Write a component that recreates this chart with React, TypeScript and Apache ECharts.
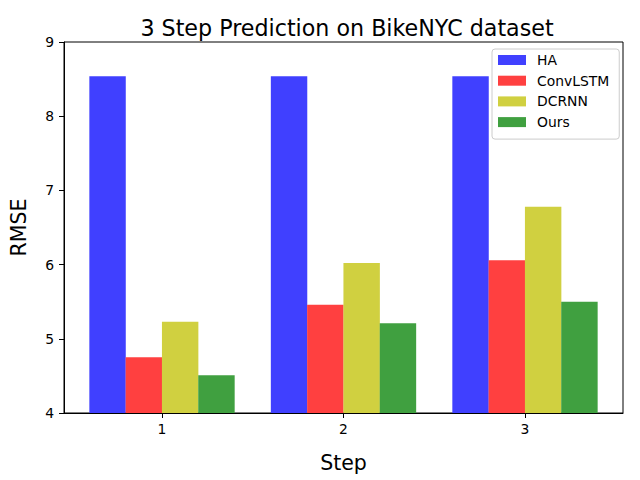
import React, { useEffect, useRef } from "react";
import * as echarts from "echarts";

const steps = [1, 2, 3];
const seriesNames = ["HA", "ConvLSTM", "DCRNN", "Ours"];
const haValues = [8.54, 8.54, 8.54];
const convlstmValues = [4.75, 5.46, 6.06];
const dcrnnValues = [5.23, 6.02, 6.78];
const oursValues = [4.51, 5.21, 5.5];
const yTicks = [4, 5, 6, 7, 8, 9];

const FONT = "DejaVu Sans";

export default function App() {
  const ref = useRef<HTMLDivElement>(null);
  useEffect(() => {
    if (!ref.current) return;
    const chart = echarts.init(ref.current, undefined, { renderer: "svg" });
    const allValues = [haValues, convlstmValues, dcrnnValues, oursValues];
    const colors = ["#4040FF", "#FF4040", "#D0D040", "#40A040"];
    const barW = 0.2;
    const gridLeft = 62;
    const gridRight = 17;
    const xMin = 0.46;
    const xMax = 3.54;
    const pxPerUnit = (640 - gridLeft - gridRight) / (xMax - xMin);
    const series = seriesNames.map((name, i) => ({
      name,
      type: "bar",
      barWidth: barW * pxPerUnit,
      barGap: "-100%",
      itemStyle: { color: colors[i] },
      data: steps.map((s, j) => [s + (i - 1.5) * barW, allValues[i][j]]),
    }));
    chart.setOption({
      animation: false,
      textStyle: { fontFamily: FONT },
      title: {
        text: "3 Step Prediction on BikeNYC dataset",
        left: 342,
        top: 12,
        textAlign: "center",
        textStyle: { fontFamily: FONT, fontSize: 22.2, fontWeight: "normal", color: "#000" },
      },
      legend: {
        data: seriesNames,
        orient: "vertical",
        left: 492,
        top: 49,
        padding: [4, 10, 10, 6],
        itemWidth: 28,
        itemHeight: 10,
        itemGap: 6.7,
        icon: "rect",
        borderColor: "#cccccc",
        borderWidth: 1,
        borderRadius: 3,
        backgroundColor: "rgba(255,255,255,0.8)",
        textStyle: { fontFamily: FONT, fontSize: 13.9, lineHeight: 14, color: "#000", padding: [0, 0, 0, 6] },
      },
      grid: {
        left: gridLeft,
        right: gridRight,
        top: 42,
        bottom: 67,
        show: true,
        borderColor: "#000",
        borderWidth: 1,
        containLabel: false,
      },
      xAxis: {
        type: "value",
        min: xMin,
        max: xMax,
        name: "Step",
        nameLocation: "middle",
        nameGap: 39,
        nameTextStyle: { fontFamily: FONT, fontSize: 20.5, color: "#000" },
        axisLine: { show: true, lineStyle: { color: "#000", width: 1 } },
        axisTick: { show: true, length: 5, lineStyle: { color: "#000" }, customValues: steps },
        axisLabel: { show: true, margin: 9, fontFamily: FONT, fontSize: 13.9, color: "#000", customValues: steps },
        splitLine: { show: false },
      },
      yAxis: {
        type: "value",
        min: yTicks[0],
        max: yTicks[yTicks.length - 1],
        interval: 1,
        name: "RMSE",
        nameLocation: "middle",
        nameGap: 35,
        nameRotate: 90,
        nameTextStyle: { fontFamily: FONT, fontSize: 20.5, color: "#000" },
        axisLine: { show: true, lineStyle: { color: "#000", width: 1 } },
        axisTick: { show: true, length: 5, lineStyle: { color: "#000" } },
        axisLabel: { show: true, margin: 10, fontFamily: FONT, fontSize: 13.9, color: "#000" },
        splitLine: { show: false },
      },
      series,
    });
    return () => chart.dispose();
  }, []);
  return (
    <div
      ref={ref}
      style={{ width: 640, height: 480, position: "absolute", left: 0, top: 0, background: "#fff" }}
    />
  );
}
